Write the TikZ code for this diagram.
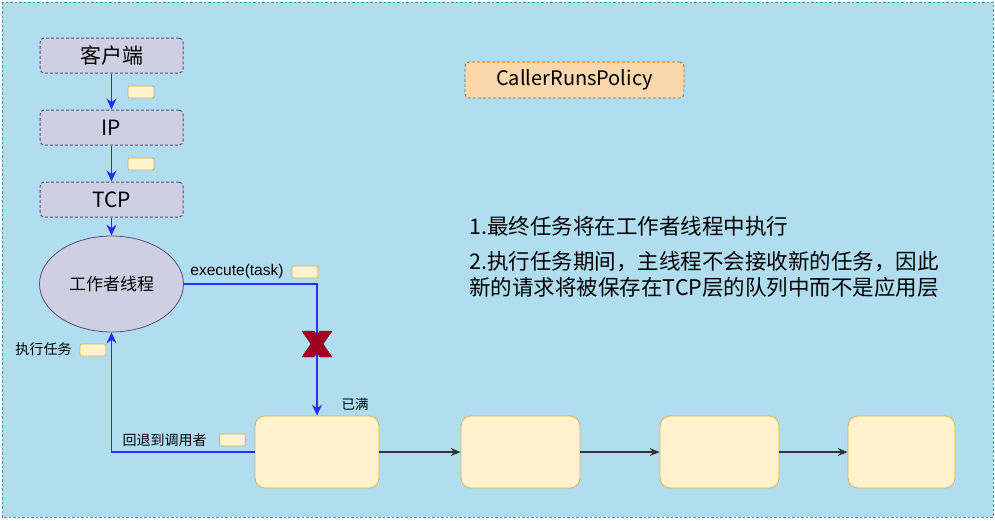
\documentclass[tikz,border=0pt]{standalone}
\usepackage{fontspec}
\setmainfont{Noto Sans CJK SC}
\newfontfamily\arialf{Liberation Sans}
\usetikzlibrary{arrows.meta,shapes.geometric}
\definecolor{bgfill}{HTML}{B1DDF0}
\definecolor{bgline}{HTML}{4A8FB0}
\definecolor{purfill}{HTML}{D0CEE2}
\definecolor{purline}{HTML}{56517E}
\definecolor{yelfill}{HTML}{FFF2CC}
\definecolor{yelline}{HTML}{D6B656}
\definecolor{orafill}{HTML}{FAD7AC}
\definecolor{oraline}{HTML}{B46504}
\definecolor{edgeblue}{HTML}{2B2BFF}
\definecolor{edgegray}{HTML}{333333}
\definecolor{xred}{HTML}{A20025}
\definecolor{xdark}{HTML}{6F0000}
\newcommand{\fsz}[1]{\fontsize{#1}{#1}\selectfont}
\begin{document}
\begin{tikzpicture}[x=1pt,y=-1pt,
  layerbox/.style={draw=purline,fill=purfill,dash pattern=on 3pt off 2pt,line width=1pt,rounded corners=4pt,
    minimum width=143pt,minimum height=35pt,inner sep=0pt,font=\fsz{21}},
  worker/.style={ellipse,draw=purline,fill=purfill,line width=0.8pt,minimum width=144pt,minimum height=96pt,
    inner sep=0pt,font=\fsz{17}},
  policybox/.style={draw=oraline,fill=orafill,dash pattern=on 3pt off 2pt,line width=0.8pt,rounded corners=4pt,
    minimum width=219pt,minimum height=36pt,inner sep=0pt,font=\fsz{20}},
  qbox/.style={draw=yelline,fill=yelfill,line width=0.8pt,rounded corners=10pt,minimum height=72pt,inner sep=0pt},
  tag/.style={draw=yelline,fill=yelfill,line width=0.8pt,rounded corners=2pt,minimum width=26pt,minimum height=12pt,inner sep=0pt},
  lbl/.style={inner sep=0pt,font=\fsz{14}},
  bluearrow/.style={draw=edgeblue,line width=1.1pt,-{Stealth[length=11pt,width=10pt,inset=3.5pt]}},
  grayarrow/.style={draw=edgegray,line width=1.3pt,-{Stealth[length=10pt,width=8pt,inset=3.5pt,fill=black]}},
  bigtext/.style={inner sep=0pt,anchor=west,font={\fontsize{21.5}{26}\selectfont},text=black}
]
\useasboundingbox (0,0) rectangle (995,520);
\path[draw=bgline,fill=bgfill,dash pattern=on 2.5pt off 2pt,line width=0.8pt] (2,2) rectangle (993,517);

% layer boxes
\node[layerbox] (client) at (111.5,55.5) {客户端};
\node[layerbox] (ip) at (111.5,127.5) {IP};
\node[layerbox] (tcp) at (111.5,199.5) {TCP};
\node[worker] (worker) at (111.5,284) {工作者线程};

% queue boxes
\node[qbox,minimum width=124pt] (q1) at (317,452) {};
\node[qbox,minimum width=119pt] (q2) at (520.5,452) {};
\node[qbox,minimum width=119pt] (q3) at (719.5,452) {};
\node[qbox,minimum width=107pt] (q4) at (901.5,452) {};

% policy
\node[policybox] (policy) at (574.5,80) {CallerRunsPolicy};

% edges
\draw[bluearrow] (client) -- (ip);
\draw[bluearrow] (ip) -- (tcp);
\draw[bluearrow] (tcp) -- (worker);
\draw[bluearrow] (worker.east) -| (q1.north);
\draw[bluearrow] (q1.west) -| (worker.south);
\draw[grayarrow] (q1) -- (q2);
\draw[grayarrow] (q2) -- (q3);
\draw[grayarrow] (q3) -- (q4);

% small tags
\node[tag] (tag1) at (141,92) {};
\node[tag] (tag2) at (141,164) {};
\node[tag] (tag3) at (305,272) {};
\node[tag] (tag4) at (93,350) {};
\node[tag] (tag5) at (232.5,440) {};

% labels
\node[lbl,font=\arialf\fsz{15.5}] (exec) at (237,271.5) {execute(task)};
\node[lbl] (runtask) at (43.5,349) {执行任务};
\node[lbl] (fallback) at (164.5,440.5) {回退到调用者};
\node[lbl,font=\fsz{13.5}] (full) at (355,404) {已满};

% red X
\coordinate (xm) at (317,344);
\begin{scope}[shift={(xm)}]
  \filldraw[fill=xred,draw=xdark,line width=0.4pt] (-15,-13) -- (-3,-13) -- (15,13) -- (3,13) -- cycle;
  \filldraw[fill=xred,draw=xdark,line width=0.4pt] (3,-13) -- (15,-13) -- (-3,13) -- (-15,13) -- cycle;
  \fill[xred] (-14,-12.4) -- (-3.3,-12.4) -- (14,12.4) -- (3.3,12.4) -- cycle;
\end{scope}

% explanatory text
\node[bigtext] (t1) at (469,226) {1.最终任务将在工作者线程中执行};
\node[bigtext,align=left] (t2) at (469,274) {2.执行任务期间，主线程不会接收新的任务，因此\\新的请求将被保存在TCP层的队列中而不是应用层};
\end{tikzpicture}
\end{document}
